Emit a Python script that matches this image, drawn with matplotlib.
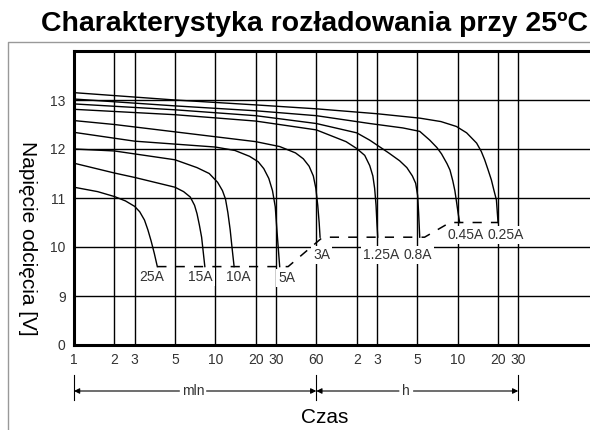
import numpy as np
import matplotlib
matplotlib.use("Agg")
import matplotlib.pyplot as plt
import matplotlib.transforms as mtransforms

plt.rcParams['font.family'] = ['Liberation Sans', 'DejaVu Sans']

# ---------------------------------------------------------------------------
# Data (time in minutes, voltage in V)
# ---------------------------------------------------------------------------
TICK_MIN = [1, 2, 3, 5, 10, 20, 30, 60, 120, 180, 300, 600, 1200, 1800]
TICK_LABELS = ["1", "2", "3", "5", "10", "20", "30",
               "60", "2", "3", "5", "10", "20", "30"]

V_TICKS = [8, 9, 10, 11, 12, 13]
V_LABELS = ["0", "9", "10", "11", "12", "13"]

CURRENTS = ["25A", "15A", "10A", "5A", "3A", "1.25A", "0.8A", "0.45A", "0.25A"]

t_25A = [1, 1.5, 2, 2.5, 3, 3.2, 3.4, 3.55, 3.7, 3.85, 4.0]
v_25A = [11.22, 11.13, 11.03, 10.94, 10.83, 10.72, 10.55, 10.35, 10.12, 9.87, 9.6]

t_15A = [1, 2, 3, 5, 5.8, 6.5, 7.0, 7.3, 7.6, 7.9, 8.35]
v_15A = [11.71, 11.51, 11.42, 11.22, 11.13, 11.02, 10.85, 10.68, 10.45, 10.2, 9.6]

t_10A = [1, 2, 3, 5, 7.3, 9, 10.4, 11.3, 11.9, 12.4, 12.9, 13.3, 13.8]
v_10A = [12.0, 11.96, 11.9, 11.78, 11.62, 11.5, 11.32, 11.15, 10.98, 10.7, 10.35, 10.0, 9.6]

t_5A = [1, 2, 3, 5, 10, 14, 18, 21, 23.5, 26, 28, 29.6, 30.6, 32]
v_5A = [12.34, 12.22, 12.16, 12.1, 12.04, 11.97, 11.85, 11.74, 11.6, 11.4, 11.15, 10.82, 10.3, 9.6]

t_3A = [1, 2, 3, 5, 10, 20, 32, 42, 48, 53, 57, 59.5, 61.5, 63, 64]
v_3A = [12.58, 12.5, 12.45, 12.35, 12.25, 12.15, 12.05, 11.92, 11.8, 11.65, 11.45, 11.2, 10.85, 10.5, 10.2]

t_125A = [1, 5, 20, 60, 100, 120, 141, 156, 166, 172, 177, 180, 182]
v_125A = [12.81, 12.7, 12.57, 12.39, 12.15, 12.01, 11.87, 11.66, 11.45, 11.2, 10.85, 10.5, 10.2]

t_08A = [1, 5, 20, 60, 120, 156, 209, 240, 263, 282, 294, 302, 307, 313]
v_08A = [12.92, 12.8, 12.68, 12.52, 12.33, 12.18, 11.92, 11.76, 11.62, 11.45, 11.3, 11.05, 10.7, 10.2]

t_045A = [1, 5, 20, 60, 156, 250, 313, 372, 420, 455, 500, 526, 552, 572, 590, 604, 621]
v_045A = [13.02, 12.88, 12.78, 12.68, 12.52, 12.43, 12.36, 12.18, 12.03, 11.9, 11.7, 11.57,
          11.35, 11.15, 10.9, 10.7, 10.5]

t_025A = [1, 5, 20, 60, 180, 313, 450, 587, 700, 831, 900, 954, 1010, 1070, 1120, 1167, 1200]
v_025A = [13.15, 13.0, 12.9, 12.82, 12.72, 12.63, 12.56, 12.46, 12.33, 12.12, 11.95, 11.78,
          11.58, 11.37, 11.15, 10.96, 10.5]

# cut-off voltage (dashed)
cutoff_t = [4.0, 37, 67, 340, 526, 1200]
cutoff_v = [9.6, 9.6, 10.2, 10.2, 10.5, 10.5]

CURVES = [(t_25A, v_25A), (t_15A, v_15A), (t_10A, v_10A), (t_5A, v_5A),
          (t_3A, v_3A), (t_125A, v_125A), (t_08A, v_08A),
          (t_045A, v_045A), (t_025A, v_025A)]

# ---------------------------------------------------------------------------
# Time axis: the chart spaces its ticks on its own grid, not a true log
# ---------------------------------------------------------------------------
_SLOT = [0, 1, 1.5, 2.5, 3.5, 4.5, 5, 6, 7, 7.5, 8.5, 9.5, 10.5, 11, 13]
_KNOT = np.log10(TICK_MIN + [7200])


def _fwd(t):
    return np.interp(np.log10(np.clip(t, 1e-6, None)), _KNOT, _SLOT)


def _inv(s):
    return 10 ** np.interp(s, _SLOT, _KNOT)


fig = plt.figure(figsize=(5.9, 4.3), dpi=100)
ax = fig.add_axes([74 / 590, 85 / 430, 525 / 590, 294 / 430])
ax.set_xscale('function', functions=(_fwd, _inv))
ax.set_xlim(1, 7200)
ax.set_ylim(8, 14)

ax.set_xticks(TICK_MIN)
ax.set_xticklabels(TICK_LABELS)
ax.xaxis.set_minor_locator(matplotlib.ticker.NullLocator())
ax.set_yticks(V_TICKS)
ax.set_yticklabels(V_LABELS)
ax.tick_params(length=0, pad=6, labelsize=10, labelcolor='#333333')

ax.grid(True, color='black', lw=1.0)
ax.set_axisbelow(True)
for side in ('left', 'top', 'bottom'):
    ax.spines[side].set_linewidth(2.2)
ax.spines['right'].set_visible(False)

for t, v in CURVES:
    ax.plot(t, v, color='black', lw=1.0, zorder=3)
ax.plot(cutoff_t, cutoff_v, color='black', lw=1.1, ls=(0, (6, 6)), zorder=3)

# current labels (white boxes break the grid, as in the original)
label_pos = {"25A": (3.74, 9.39), "15A": (7.7, 9.39), "10A": (14.9, 9.39),
             "5A": (36, 9.37), "3A": (66, 9.84), "1.25A": (189, 9.84),
             "0.8A": (302, 9.84), "0.45A": (689, 10.24), "0.25A": (1398, 10.24)}
for name in CURRENTS:
    x, y = label_pos[name]
    ax.text(x, y, name, ha='center', va='center', fontsize=10, color='#333333',
            zorder=4, bbox=dict(facecolor='white', edgecolor='none', pad=1.5))

# min / h range arrows under the axis
trans = mtransforms.blended_transform_factory(ax.transData, fig.transFigure)
for xb in (1, 60, 1800):
    ax.plot([xb, xb], [0.070, 0.128], color='black', lw=0.8,
            transform=trans, clip_on=False)
arrows = [(5.4, 1), (8.6, 60), (238, 60), (286, 1800)]
for x0, x1 in arrows:
    ax.annotate("", xy=(x1, 0.0907), xytext=(x0, 0.0907),
                xycoords=trans, textcoords=trans,
                arrowprops=dict(arrowstyle='-|>', color='black', lw=0.8,
                                mutation_scale=8, shrinkA=0, shrinkB=0))
ax.text(6.85, 0.0907, "mln", transform=trans, ha='center', va='center',
        fontsize=10, color='#333333')
ax.text(259, 0.0907, "h", transform=trans, ha='center', va='center',
        fontsize=10, color='#333333')

fig.text(0.551, 0.028, "Czas", ha='center', va='center', fontsize=15)
fig.text(0.046, 0.4465, "Napięcie odcięcia [V]", rotation=270,
         ha='center', va='center', fontsize=15)
fig.text(0.997, (430 - 24) / 430, "Charakterystyka rozładowania przy 25ºC",
         ha='right', va='center', fontsize=20.5, fontweight='bold')

# thin outer frame (left and top)
fig.add_artist(plt.Line2D([8 / 590, 8 / 590, 1], [0, 1 - 42 / 430, 1 - 42 / 430],
                          color='#999999', lw=1.0, transform=fig.transFigure))

fig.savefig("out.png", dpi=100)
